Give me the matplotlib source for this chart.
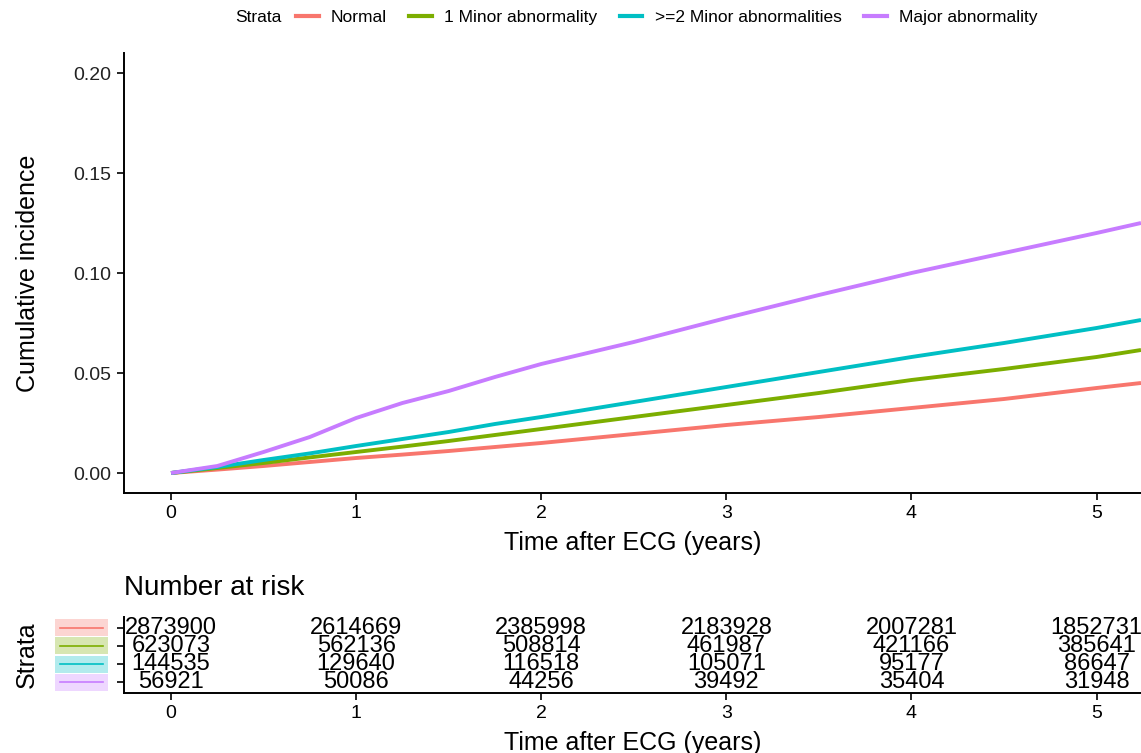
import matplotlib
matplotlib.use("Agg")
import matplotlib.pyplot as plt
from matplotlib import transforms
from matplotlib.patches import Rectangle
from matplotlib.lines import Line2D

plt.rcParams['font.family'] = ['Liberation Sans', 'DejaVu Sans']

strata = ["Normal", "1 Minor abnormality", ">=2 Minor abnormalities", "Major abnormality"]
colors = ["#F8766D", "#7CAE00", "#00BFC4", "#C77CFF"]

times = [0, 0.25, 0.5, 0.75, 1, 1.25, 1.5, 1.75, 2, 2.5, 3, 3.5, 4, 4.5, 5, 5.24]
inc_normal = [0, 0.0017, 0.0035, 0.0055, 0.0075, 0.0092, 0.011, 0.013, 0.015, 0.0195, 0.024, 0.028, 0.0325, 0.037, 0.0425, 0.045]
inc_minor1 = [0, 0.0025, 0.005, 0.0078, 0.0105, 0.0132, 0.016, 0.019, 0.022, 0.028, 0.034, 0.040, 0.0465, 0.052, 0.058, 0.0615]
inc_minor2 = [0, 0.003, 0.0065, 0.0098, 0.0135, 0.017, 0.0205, 0.0245, 0.028, 0.0355, 0.043, 0.0505, 0.058, 0.065, 0.0725, 0.0765]
inc_major = [0, 0.0035, 0.0105, 0.018, 0.0275, 0.035, 0.041, 0.048, 0.0545, 0.0655, 0.0775, 0.089, 0.100, 0.110, 0.120, 0.125]
series = [inc_normal, inc_minor1, inc_minor2, inc_major]

risk_times = [0, 1, 2, 3, 4, 5]
risk_normal = [2873900, 2614669, 2385998, 2183928, 2007281, 1852731]
risk_minor1 = [623073, 562136, 508814, 461987, 421166, 385641]
risk_minor2 = [144535, 129640, 116518, 105071, 95177, 86647]
risk_major = [56921, 50086, 44256, 39492, 35404, 31948]
risks = [risk_normal, risk_minor1, risk_minor2, risk_major]

W, H = 1141, 753
fig = plt.figure(figsize=(W / 100, H / 100), dpi=100)

def frac(x0, y0, x1, y1):
    return [x0 / W, 1 - y1 / H, (x1 - x0) / W, (y1 - y0) / H]

xlim = (-0.254, 5.24)

# Main axes
ax = fig.add_axes(frac(124, 53, 1141, 493))
for s, c, lab in zip(series, colors, strata):
    ax.plot(times, s, color=c, lw=2.8, label=lab, solid_capstyle='butt')
ax.set_xlim(*xlim)
ax.set_ylim(-0.01, 0.21)
ax.set_yticks([0, 0.05, 0.10, 0.15, 0.20])
ax.set_yticklabels(["0.00", "0.05", "0.10", "0.15", "0.20"])
ax.set_xticks([0, 1, 2, 3, 4, 5])
for sp in ['top', 'right']:
    ax.spines[sp].set_visible(False)
for sp in ['left', 'bottom']:
    ax.spines[sp].set_linewidth(1.4)
ax.tick_params(axis='both', labelsize=14, length=5, width=1.2, colors='black', pad=4)
ax.tick_params(axis='y', labelcolor='#222222')
ax.set_xlabel("Time after ECG (years)", fontsize=18, labelpad=6)
ax.set_ylabel("Cumulative incidence", fontsize=18, labelpad=24)

# Legend at top
fig.text(235 / W, 1 - 17 / H, "Strata", fontsize=12.5, va='center', ha='left')
handles = [Line2D([0], [0], color=c, lw=3) for c in colors]
fig.legend(handles, strata, loc='center left', bbox_to_anchor=(296 / W, 1 - 17 / H),
           ncol=4, frameon=False, fontsize=12.5, handlelength=1.3, handletextpad=0.7,
           columnspacing=1.3, borderaxespad=0, borderpad=0)

# Risk table
axr = fig.add_axes(frac(124, 617, 1141, 693))
axr.set_xlim(*xlim)
axr.set_ylim(0.4, 4.6)
rows = [4, 3, 2, 1]
for r, vals in zip(rows, risks):
    for t, v in zip(risk_times, vals):
        axr.text(t, r, str(v), ha='center', va='center', fontsize=17)
axr.set_yticks(rows)
axr.set_yticklabels([""] * 4)
axr.set_xticks([0, 1, 2, 3, 4, 5])
for sp in ['top', 'right']:
    axr.spines[sp].set_visible(False)
for sp in ['left', 'bottom']:
    axr.spines[sp].set_linewidth(1.4)
axr.tick_params(axis='both', labelsize=14, length=5, width=1.2, pad=4)
axr.set_xlabel("Time after ECG (years)", fontsize=18, labelpad=6)
axr.set_ylabel("Strata", fontsize=18, labelpad=52)
axr.set_title("Number at risk", fontsize=20, loc='left', pad=16)

tr = transforms.blended_transform_factory(axr.transAxes, axr.transData)
x0 = (55 - 124) / 1017
x1 = (108 - 124) / 1017
for r, c in zip(rows, colors):
    axr.add_patch(Rectangle((x0, r - 0.47), x1 - x0, 0.94, transform=tr,
                            facecolor=c, alpha=0.3, edgecolor='none', clip_on=False))
    axr.add_line(Line2D([x0 + 0.005, x1 - 0.005], [r, r], transform=tr, color=c,
                        lw=1.2, clip_on=False))

fig.savefig("out.png", dpi=100)
